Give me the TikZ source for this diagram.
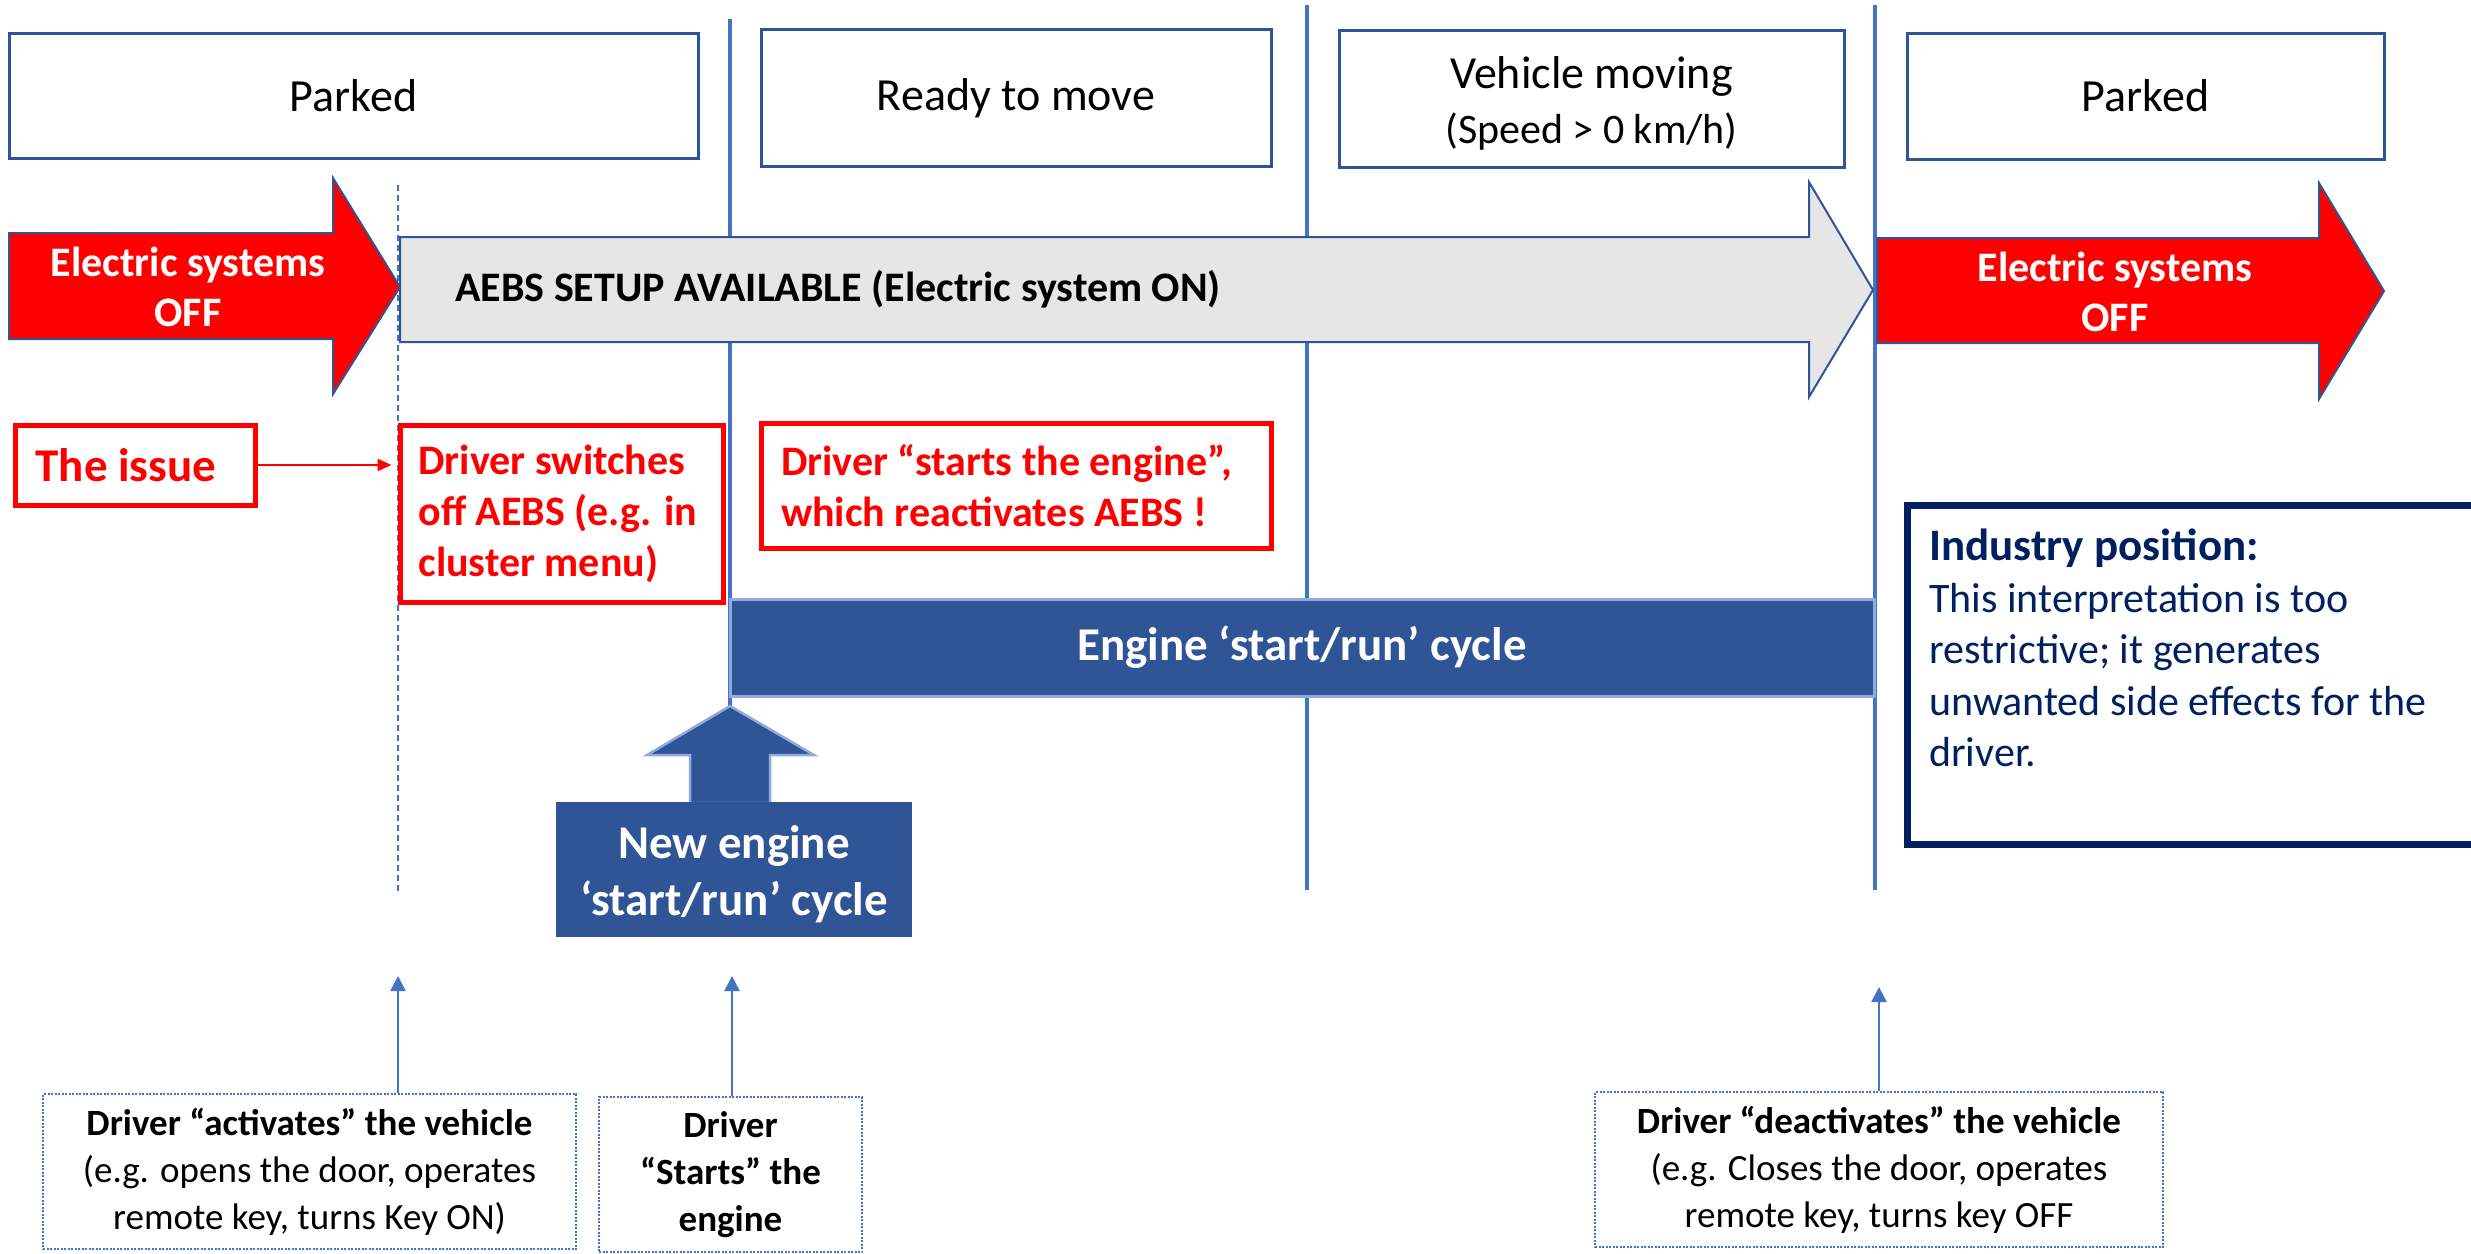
\documentclass[tikz,border=0pt]{standalone}
\usepackage{fontspec}
\setmainfont{Carlito}
\usetikzlibrary{arrows.meta,positioning}
\definecolor{boxblue}{HTML}{2F5597}
\definecolor{lineblue}{HTML}{4472C4}
\definecolor{paleblue}{HTML}{8FAADC}
\definecolor{navy}{HTML}{002060}
\definecolor{offred}{HTML}{FF0000}
\definecolor{setupgrey}{HTML}{E7E6E6}
\tikzset{
	%Define style for phase boxes
	phase/.style={
		rectangle,
		draw=boxblue, line width=3pt,
		fill=white,
		inner sep=0pt,
		align=center,
		font=\fontsize{46}{54}\selectfont},
	%Define style for big block arrows
	blockarrow/.style={
		draw=boxblue, line width=2pt},
	arrowtext/.style={
		inner sep=0pt,
		align=center,
		font=\bfseries\fontsize{42}{50}\selectfont},
	%Define style for red issue boxes
	issuebox/.style={
		rectangle,
		draw=offred, line width=5pt,
		inner xsep=20pt, inner ysep=0pt,
		text=offred,
		align=flush left,
		font=\bfseries\fontsize{42}{51}\selectfont},
	%Define style for engine cycle
	cyclebox/.style={
		rectangle,
		fill=boxblue,
		inner sep=0pt,
		text=white,
		align=center,
		font=\bfseries\fontsize{47}{57}\selectfont},
	%Define style for the driver actions
	actionbox/.style={
		rectangle,
		draw=lineblue, line width=2pt, dash pattern=on 2pt off 1.5pt,
		inner sep=0pt,
		align=center,
		font=\fontsize{37}{47}\selectfont},
	phaseline/.style={
		draw=lineblue, line width=4pt},
	actionarrow/.style={
		draw=lineblue, line width=2.5pt,
		-{Triangle[length=15pt,width=15pt]}}
}

\begin{document}
\begin{tikzpicture}[x=1pt, y=-1pt]
	\clip (0,0) rectangle (2471,1253);
	\fill[white] (0,0) rectangle (2471,1253);
	% phase separators
	\draw[lineblue, line width=1.2pt, dash pattern=on 6pt off 4pt] (398,185) -- (398,891);
	\draw[phaseline] (730,19) -- (730,706);
	\draw[phaseline] (1307,5) -- (1307,890);
	\draw[phaseline] (1875,5) -- (1875,890);
	% phases
	\node[phase, minimum width=689, minimum height=125] (parkedA) at (353.5,95.5) {Parked};
	\node[phase, minimum width=510, minimum height=137] (ready) at (1016,98) {Ready to move};
	\node[phase, minimum width=505, minimum height=137] (moving) at (1591.5,98.5)
		{\rule{0pt}{42pt}Vehicle moving\\[1pt]{\fontsize{42}{50}\selectfont (Speed > 0 km/h)}};
	\node[phase, minimum width=477, minimum height=126] (parkedB) at (2145.5,96) {Parked};
	% electric system arrows
	\filldraw[blockarrow, fill=offred] (9,233) -- (333,233) -- (333,178) -- (400,287)
		-- (333,394) -- (333,339) -- (9,339) -- cycle;
	\filldraw[blockarrow, fill=setupgrey] (400,237) -- (1809,237) -- (1809,182) -- (1873,290)
		-- (1809,397) -- (1809,342) -- (400,342) -- cycle;
	\filldraw[blockarrow, fill=offred] (1877,238) -- (2319,238) -- (2319,183) -- (2384,291)
		-- (2319,399) -- (2319,343) -- (1877,343) -- cycle;
	\node[arrowtext, text=white] (offA) at (188,287) {Electric systems\\OFF};
	\node[arrowtext, anchor=west] (setup) at (455,289) {AEBS SETUP AVAILABLE (Electric system ON)};
	\node[arrowtext, text=white] (offB) at (2115,292) {Electric systems\\OFF};
	% the issue
	\node[issuebox, minimum width=240, minimum height=80, inner xsep=0pt, align=center,
		font=\bfseries\fontsize{47}{56}\selectfont] (issue) at (135,465) {The issue\hspace{18pt}};
	\node[issuebox, text width=286, inner xsep=18.5pt, minimum height=177] (switch) at (561.5,513.5)
		{Driver switches\\off AEBS (e.g. in\\cluster menu)};
	\node[issuebox, text width=470, minimum height=125] (restart) at (1016,486)
		{Driver “starts the engine”,\\which reactivates AEBS !};
	\draw[offred, line width=2.5pt, -{Triangle[length=14pt,width=12pt]}, shorten >=6pt]
		(issue.east) -- (switch.west |- issue.east);
	% engine cycle
	\node[cyclebox, draw=paleblue, line width=3pt, minimum width=1144, minimum height=97] (cycle)
		at (1302,647.5) {Engine ‘start/run’ cycle};
	\filldraw[fill=boxblue, draw=paleblue, line width=2.5pt] (730,706) -- (814,755) -- (770,755)
		-- (770,803) -- (690,803) -- (690,755) -- (647,755) -- cycle;
	\node[cyclebox, minimum width=356, minimum height=135] (newcycle) at (734,869.5)
		{\rule{0pt}{42pt}New engine\\‘start/run’ cycle};
	% industry position
	\draw[navy, line width=7pt] (2480,505) -- (1907,505) -- (1907,844) -- (2480,844);
	\node[anchor=north west, inner sep=0pt, text width=540, align=flush left, text=navy,
		font=\fontsize{42}{51.5}\selectfont] (industry) at (1929,529)
		{{\bfseries\fontsize{45}{52}\selectfont Industry position:}\\This interpretation is too\\restrictive; it generates\\unwanted side effects for the\\driver.};
	% driver actions
	\node[actionbox, minimum width=533, minimum height=155] (activate) at (309.5,1171.5)
		{\textbf{Driver “activates” the vehicle}\\(e.g. opens the door, operates\\remote key, turns Key ON)};
	\node[actionbox, minimum width=263, minimum height=155, font=\bfseries\fontsize{37}{47}\selectfont]
		(start) at (730.5,1174.5) {Driver\\“Starts” the\\engine};
	\node[actionbox, minimum width=568, minimum height=155] (deactivate) at (1879,1169.5)
		{\textbf{Driver “deactivates” the vehicle}\\(e.g. Closes the door, operates\\remote key, turns key OFF};
	\coordinate (activatetip) at (398,976);
	\coordinate (starttip) at (732,976);
	\coordinate (deactivatetip) at (1879,987);
	\draw[actionarrow] (activatetip |- activate.north) -- (activatetip);
	\draw[actionarrow] (starttip |- start.north) -- (starttip);
	\draw[actionarrow] (deactivate.north) -- (deactivatetip);
\end{tikzpicture}
\end{document}
